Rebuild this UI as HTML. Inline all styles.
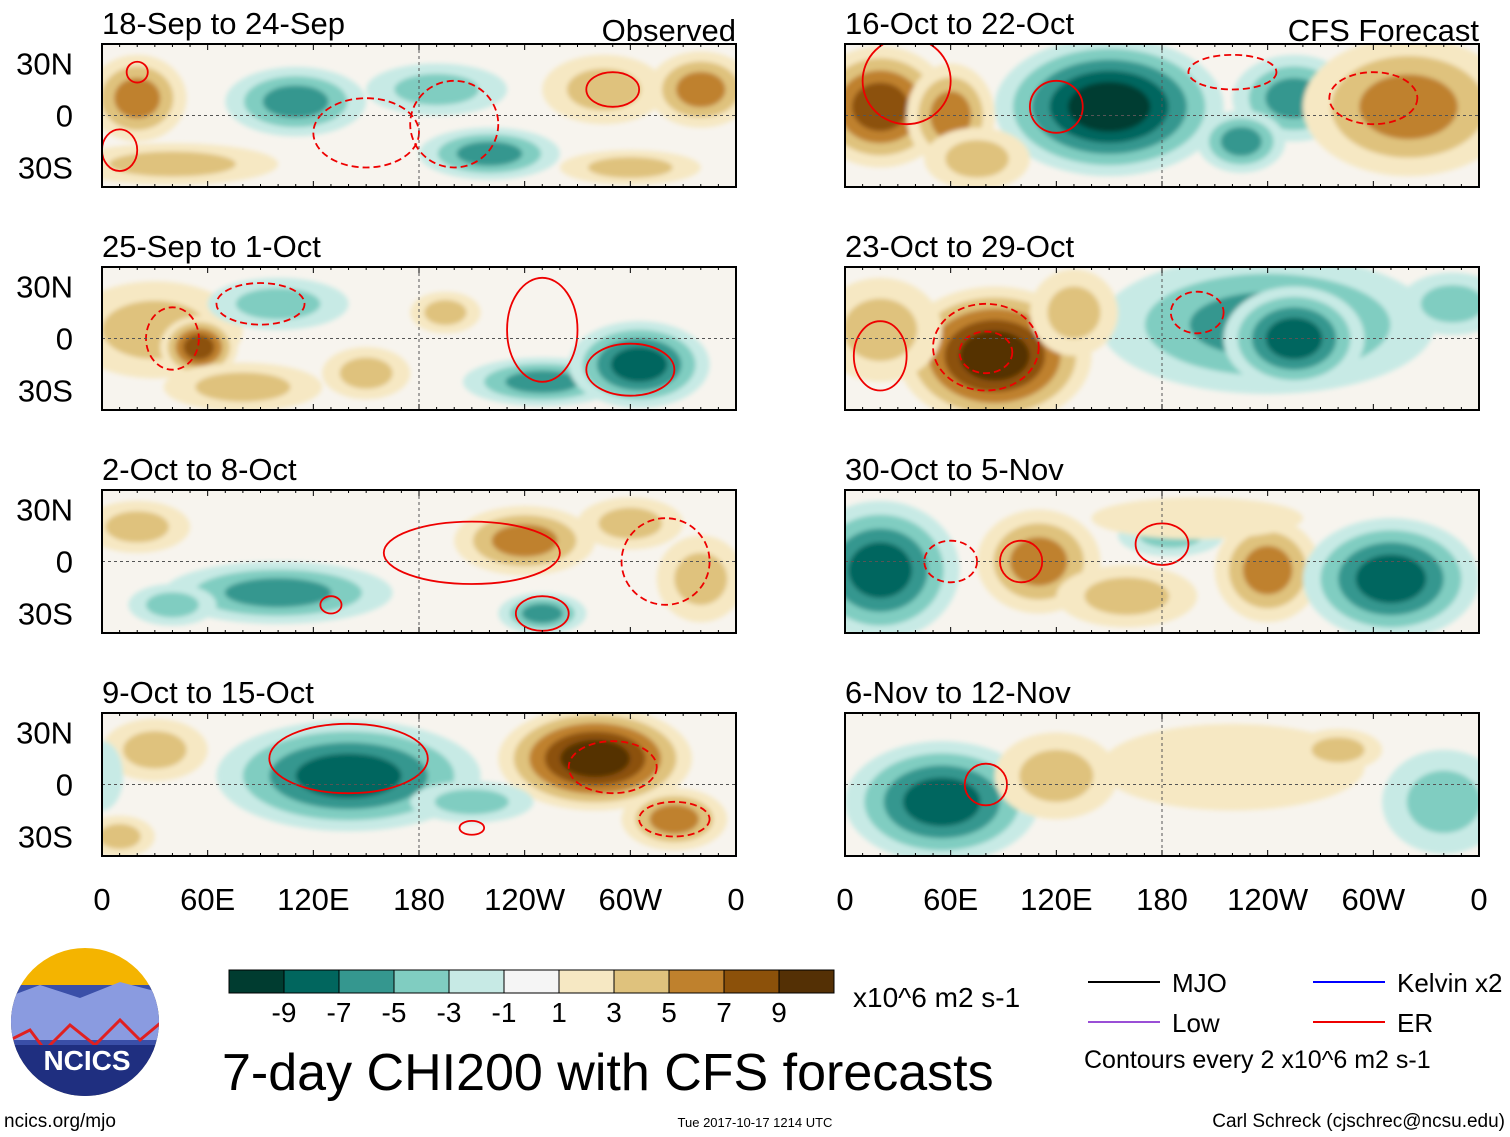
<!DOCTYPE html>
<html><head><meta charset="utf-8"><style>
body{margin:0;background:#fff;font-family:"Liberation Sans",sans-serif}
svg{display:block}
</style></head><body>
<svg id="chart" width="1510" height="1137" viewBox="0 0 1510 1137" xmlns="http://www.w3.org/2000/svg" font-family="Liberation Sans, sans-serif">
<defs><filter id="blur" x="-20%" y="-20%" width="140%" height="140%"><feGaussianBlur stdDeviation="2.5"/></filter></defs>
<g id="panels"></g>
<g id="legend-area"></g>
</svg>
<script>
const levels=[-9,-7,-5,-3,-1,1,3,5,7,9];
const levelColors=["#003c30","#01665e","#35978f","#80cdc1","#c7eae5","#f5f5f5","#f6e8c3","#dfc27d","#bf812d","#8c510a","#543005"];
const panelTitles=["18-Sep to 24-Sep","25-Sep to 1-Oct","2-Oct to 8-Oct","9-Oct to 15-Oct","16-Oct to 22-Oct","23-Oct to 29-Oct","30-Oct to 5-Nov","6-Nov to 12-Nov"];
// blobs: [lon, lat, lonRadius, latRadius, value]
const blobs0=[[40,-28,60,12,2],[20,10,28,25,5],[110,8,40,20,-5],[190,15,40,15,-2],[220,-22,40,15,-5],[285,15,35,20,3],[340,15,30,22,4],[300,-30,40,10,2]];
const blobs1=[[30,5,50,28,3],[55,-5,22,18,6],[80,-28,45,14,3],[150,-20,25,15,3],[195,15,20,12,2],[250,-25,45,14,-5],[305,-15,40,25,-7],[100,20,40,15,-2]];
const blobs2=[[100,-18,65,18,-5],[240,12,40,20,5],[300,22,30,15,3],[250,-30,25,12,-5],[20,20,30,15,3],[340,-10,25,25,2],[40,-25,25,12,-2]];
const blobs3=[[140,5,75,32,-7],[280,15,55,30,9],[325,-20,30,18,5],[10,-30,20,12,3],[30,20,30,18,3],[210,-10,35,12,-2],[0,5,12,20,-1]];
const blobs4=[[20,5,40,35,7],[60,0,25,30,5],[150,5,65,40,-9],[255,10,35,25,-5],[225,-15,25,18,-5],[320,5,60,40,5],[75,-25,30,18,3]];
const blobs5=[[85,-10,55,40,9],[240,8,95,40,-5],[255,0,40,30,-7],[130,15,25,25,2],[20,5,35,30,3],[345,20,30,18,-2]];
const blobs6=[[20,-5,45,40,-7],[110,0,35,30,5],[160,-20,40,18,3],[240,-5,30,30,5],[185,15,30,12,-3],[310,-10,50,35,-7],[200,25,60,12,1]];
const blobs7=[[55,-10,55,35,-7],[120,5,35,25,3],[220,10,75,25,1],[280,20,25,12,2],[340,-10,35,30,-3]];
const panelBlobs=[blobs0,blobs1,blobs2,blobs3,blobs4,blobs5,blobs6,blobs7];
// red ER contours: [lon, lat, lonRadius, latRadius, dashed(1)/solid(0)]
const contours=[[[10,-20,10,12,0],[150,-10,30,20,1],[200,-5,25,25,1],[20,25,6,6,0],[290,15,15,10,0]],
[[40,0,15,18,1],[250,5,20,30,0],[300,-18,25,15,0],[90,20,25,12,1]],
[[210,5,50,18,0],[130,-25,6,5,0],[250,-30,15,10,0],[320,0,25,25,1]],
[[140,15,45,20,0],[210,-25,7,4,0],[325,-20,20,10,1],[290,10,25,15,1]],
[[35,20,25,25,0],[120,5,15,15,0],[220,25,25,10,1],[300,10,25,15,1]],
[[80,-5,30,25,1],[80,-8,15,12,1],[200,15,15,12,1],[20,-10,15,20,0]],
[[100,0,12,12,0],[180,10,15,12,0],[60,0,15,12,1]],
[[80,0,12,12,0]]];
const titleRight=["Observed","","","","CFS Forecast","","",""];
const xTicks=[0,60,120,180,240,300,360];
const xTickLabels=["0","60E","120E","180","120W","60W","0"];
const yTicks=[30,0,-30];const yTickLabels=["30N","0","30S"];
const colX=[102,845],W=634,H=143,rowY=[44,267,490,713];
const NS="http://www.w3.org/2000/svg";
function mk(t,a,p){const e=document.createElementNS(NS,t);for(const k in a)e.setAttribute(k,a[k]);p.appendChild(e);return e;}
function colorFor(v){let i=0;while(i<levels.length&&v>levels[i])i++;return levelColors[i];}
const root=document.getElementById('panels');
for(let p=0;p<8;p++){
 const x0=colX[p<4?0:1],y0=rowY[p%4];
 const sx=lon=>x0+lon/360*W, sy=lat=>y0+H/2-lat*(52/30);
 const g=mk('g',{},root);
 
 
 const cp=mk('clipPath',{id:'c'+p},g);
 mk('rect',{x:x0,y:y0,width:W,height:H},cp);
 const inner=mk('g',{'clip-path':'url(#c'+p+')'},g);
 mk('rect',{x:x0,y:y0,width:W,height:H,fill:'#f7f4ee'},inner);
 const fg=mk('g',{filter:'url(#blur)'},inner);
 panelBlobs[p].forEach(b=>{
  const [lon,lat,rl,rt,v]=b;const n=Math.ceil((Math.abs(v)+1)/2);
  for(let k=0;k<n;k++){const f=1-0.8*k/n;const lvl=Math.sign(v)*(2*k+2)-Math.sign(v)*0.5;
   const e=mk('ellipse',{cx:sx(lon),cy:sy(lat),rx:rl/360*W*f,ry:rt*(52/30)*f,fill:colorFor(lvl)},fg);
   
   }
 });
 contours[p].forEach(c=>{const e=mk('ellipse',{cx:sx(c[0]),cy:sy(c[1]),rx:c[2]/360*W,ry:c[3]*(52/30),fill:'none',stroke:'#e00','stroke-width':1.8,'stroke-dasharray':c[4]?'7 4':'none'},inner);
  
  });
 mk('line',{x1:x0,x2:x0+W,y1:sy(0),y2:sy(0),stroke:'#555','stroke-dasharray':'3 3'},inner);
 mk('line',{x1:sx(180),x2:sx(180),y1:y0,y2:y0+H,stroke:'#555','stroke-dasharray':'3 3'},inner);
 mk('rect',{x:x0,y:y0,width:W,height:H,fill:'none',stroke:'#000','stroke-width':2},g);
 for(let l=0;l<=360;l+=10){const len=l%60==0?6:3;mk('line',{x1:sx(l),x2:sx(l),y1:y0,y2:y0+len,stroke:'#000'},g);mk('line',{x1:sx(l),x2:sx(l),y1:y0+H,y2:y0+H-len,stroke:'#000'},g);}
 const t=mk('text',{x:x0,y:y0-10,'font-size':31},g);t.textContent=panelTitles[p];
 
 if(titleRight[p]){const r=mk('text',{x:x0+W,y:y0-3,'font-size':31,'text-anchor':'end'},g);r.textContent=titleRight[p];
  }
 if(p<4){yTicks.forEach((v,i)=>{const yt=mk('text',{x:73,y:sy(v)+11,'font-size':31,'text-anchor':'end'},g);yt.textContent=yTickLabels[i];
  });}
 if(p%4==3){xTicks.forEach((v,i)=>{const xt=mk('text',{x:sx(v),y:910,'font-size':31,'text-anchor':'middle'},g);xt.textContent=xTickLabels[i];
  });}
}
const L=document.getElementById('legend-area');
const cbX=229,cbW=55;
levelColors.forEach((c,i)=>{const r=mk('rect',{x:cbX+i*cbW,y:970,width:cbW,height:23,fill:c,stroke:'#000','stroke-width':1},L);
 });
const cbLabels=[-9,-7,-5,-3,-1,1,3,5,7,9];
cbLabels.forEach((v,i)=>{const t=mk('text',{x:cbX+(i+1)*cbW,y:1022,'font-size':28,'text-anchor':'middle'},L);t.textContent=v;
 });
function txt(x,y,s,str,anchor,name){const t=mk('text',{x:x,y:y,'font-size':s,'text-anchor':anchor||'start'},L);t.textContent=str;
 return t;}
txt(853,1007,28,"x10^6 m2 s-1",'start','colorbar-units');
txt(222,1090,52,"7-day CHI200 with CFS forecasts",'start','chart-title');
const lg=[[1088,982,'#000','MJO'],[1313,982,'#00f','Kelvin x2'],[1088,1022,'#9a4fd6','Low'],[1313,1022,'#e00','ER']];
lg.forEach(d=>{mk('line',{x1:d[0],x2:d[0]+72,y1:d[1],y2:d[1],stroke:d[2],'stroke-width':2},L);txt(d[0]+84,d[1]+10,26,d[3],'start','legend-entry');});
txt(1084,1068,25,"Contours every 2 x10^6 m2 s-1",'start','contour-note');
txt(4,1127,19,"ncics.org/mjo",'start','url-label');
txt(755,1127,13,"Tue 2017-10-17 1214 UTC",'middle','timestamp');
txt(1505,1127,19,"Carl Schreck (cjschrec@ncsu.edu)",'end','credit');
const lgG=mk('g',{},L);
const lc=mk('clipPath',{id:'lc'},lgG);mk('circle',{cx:85,cy:1022,r:74},lc);
const li=mk('g',{'clip-path':'url(#lc)'},lgG);
mk('rect',{x:0,y:940,width:170,height:170,fill:'#f4b400'},li);
mk('rect',{x:0,y:985,width:170,height:130,fill:'#3a4fa8'},li);
mk('path',{d:'M0 1000 L40 985 L80 998 L120 982 L170 995 L170 1040 L0 1040Z',fill:'#8a9be0'},li);
mk('path',{d:'M0 1045 L30 1030 L45 1050 L70 1025 L95 1045 L120 1020 L140 1040 L170 1015',fill:'none',stroke:'#e02020','stroke-width':3},li);
mk('rect',{x:0,y:1045,width:170,height:70,fill:'#1f2f80'},li);
const nt=mk('text',{x:87,y:1070,'font-size':28,'font-weight':'bold',fill:'#fff','text-anchor':'middle'},lgG);nt.textContent="NCICS";
</script>
</body></html>
